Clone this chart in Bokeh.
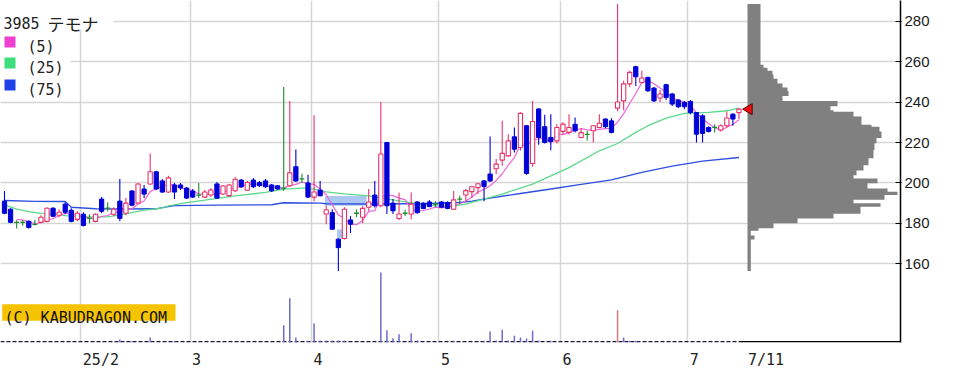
import numpy as np
import pandas as pd
from bokeh.plotting import figure
from bokeh.models import Range1d, FixedTicker, CustomJSTickFormatter
from bokeh.core.properties import value
from bokeh.embed import file_html
from bokeh.resources import INLINE

# ------------------------------------------------------------------ data
ticker_code = "3985"
ticker_name = "テモナ"
ma_labels = ["(5)", "(25)", "(75)"]
watermark = "(C) KABUDRAGON.COM"
month_start_idx = [13, 31, 51, 72, 92, 113]
month_labels = ["25/2", "3", "4", "5", "6", "7"]
last_date_label = "7/11"
price_ticks = [160, 180, 200, 220, 240, 260, 280]

opens = [191, 187, 180.5, 180.5, 181, 179.5, 180.5, 181, 187.5, 184,
         189.5, 186.5, 182, 184.5, 182.5, 181, 192, 187.5, 184.5, 191,
         185, 196, 190, 197, 199.5, 205.5, 201, 195.5, 199, 199,
         197.5, 196, 194, 193, 194, 199.5, 194.5, 193.7, 196.1, 201.4,
         196.4, 201.4, 200.2, 201, 199, 198.6, 197.4, 198.6, 208, 202,
         200, 193, 196.4, 184.6, 185.3, 172.2, 172.5, 181.7, 185, 183,
         188, 194, 188.7, 220, 190, 182.4, 185, 184.6, 190.6, 190,
         190.6, 189.5, 190.6, 190.3, 187, 192, 194, 195.7, 197.7, 201,
         204.4, 207, 211.3, 213.4, 222.8, 217.5, 228.3, 209.6, 236.6, 227.8,
         222.5, 220.8, 225.5, 225, 229, 222.5, 224, 225.8, 227.4, 231.6,
         230.7, 237, 240.6, 249, 257.5, 249.7, 252.2, 246.9, 242, 248.6,
         244, 241, 239.8, 240.3, 234.8, 233.2, 227.4, 227.5, 226.2, 228.3,
         234, 234.8]
highs = [196, 187.5, 181.5, 181.5, 181.5, 181.8, 184, 188, 188, 187,
         190.5, 187.5, 186, 185.5, 184.5, 185, 193, 190.5, 188, 202,
         192.5, 196.5, 200, 199, 214.5, 206, 202, 203.5, 200, 200,
         198, 197, 200, 196.5, 197.5, 200.5, 199, 199.5, 203, 202,
         201, 202.5, 201, 202, 199.5, 199, 247.5, 240.5, 216.5, 204.5,
         204, 233.5, 201, 188.7, 187, 172.5, 188, 183.7, 187, 188.5,
         197, 201, 240, 220, 192, 195.3, 186.7, 195.3, 191, 190.5,
         191.5, 191, 191, 191, 196, 193.6, 197, 198.6, 199.8, 201.5,
         223, 211.8, 230.7, 224.1, 227.4, 235, 228.5, 240.6, 237, 233.7,
         234, 229, 230, 234, 232.4, 227, 225.8, 228.5, 234, 232,
         232, 288.5, 250.5, 255.5, 258, 255.5, 252.5, 247.5, 246, 249,
         244.5, 241.5, 240.5, 241, 235, 234, 228, 229, 229, 235.3,
         234.5, 237]
lows = [184.5, 180, 177.5, 178.8, 177.5, 179, 180, 180.5, 183, 183,
        184.5, 180.5, 181, 178.5, 180, 180.5, 185, 186, 183.5, 181,
        184, 188.5, 189.5, 192.5, 199, 196.5, 195, 195, 192, 196.5,
        192, 192.5, 192.5, 192.5, 193, 192, 194, 193, 195.5, 197.5,
        196, 197.5, 198, 197.5, 195.5, 196.5, 196, 198, 200.5, 200,
        192.5, 191, 193.5, 179.6, 177, 156.5, 172, 175.2, 183, 180,
        186.2, 187.8, 188, 184.6, 184.6, 181.7, 183.7, 182, 184.8, 187,
        188, 188, 187.8, 187, 186.7, 189.5, 191, 192.5, 194.5, 191,
        200.5, 204.4, 208.5, 213, 215, 216, 204, 208, 218.9, 219.5,
        216.2, 219.5, 224, 224, 225, 222, 221, 220, 227, 227,
        224.5, 235.5, 236, 247.5, 248, 249, 245, 240, 240, 241,
        238, 237, 236.5, 234, 220, 220, 225, 225, 225.5, 227.5,
        228.3, 231.6]
closes = [185, 180.5, 180.5, 180.5, 178, 179.5, 183, 187.5, 183.5, 185.5,
          185.5, 181, 185, 179, 182.5, 184.5, 186, 187.5, 187, 182.5,
          190, 189, 199.5, 194.5, 205.5, 197, 195.5, 202.5, 195.5, 197.5,
          192.5, 193, 194, 195.5, 196.5, 192.5, 198.5, 199, 201.8, 198.1,
          200.2, 198.1, 198.6, 198.1, 196.1, 197, 197.4, 205, 201, 202,
          193, 195.5, 193.6, 186.7, 177.1, 168, 187, 179.6, 185, 187.4,
          190.6, 188.7, 214.3, 188.7, 186.2, 184.6, 185, 189.5, 185.3, 187.4,
          188.3, 189.5, 188, 187.4, 191.6, 192, 196.2, 198.1, 199.6, 198.2,
          201, 209.3, 214.6, 220.8, 216.7, 234.4, 204.7, 230.4, 222.5, 220,
          220.5, 227.4, 229.1, 227.4, 225.8, 224.9, 224, 228.3, 229.5, 227.8,
          225, 240, 249, 254.7, 252.5, 251.9, 245.6, 240.6, 244, 242.3,
          239, 237.7, 237.7, 234.8, 224.1, 224.5, 225.5, 227.5, 228.3, 232.1,
          231.6, 236.5]
volumes = [8, 8, 8, 8, 8, 8, 8, 8, 8, 8,
           8, 8, 8, 8, 8, 8, 8, 8, 8, 30,
           8, 12, 8, 8, 50, 8, 8, 8, 15, 8,
           8, 8, 8, 8, 8, 8, 8, 8, 8, 8,
           8, 8, 8, 8, 8, 8, 173, 443, 50, 8,
           17, 190, 20, 20, 20, 20, 20, 8, 8, 8,
           8, 8, 700, 123, 43, 83, 8, 93, 20, 8,
           8, 8, 8, 8, 18, 8, 8, 8, 8, 15,
           110, 20, 127, 20, 67, 50, 40, 117, 20, 8,
           18, 8, 8, 8, 8, 8, 8, 8, 8, 8,
           8, 323, 50, 18, 18, 8, 8, 8, 8, 8,
           8, 8, 8, 8, 8, 8, 8, 8, 8, 8,
           8, 8]
vol_red_days = [101]

ma25_days = [0, 2, 4, 6, 9, 10, 13, 17, 19, 21, 23, 26, 27, 30, 33, 38, 43, 46, 50, 53,
             56, 60, 65, 68, 73, 76, 79, 82, 87, 93, 98, 101, 104, 106, 109, 112, 116, 119, 121]
ma25_vals = [189.2, 187.0, 185.8, 184.9, 184.4, 183.8, 183.2, 183.2, 184.2, 185.3,
             186.5, 187.6, 188.6, 190.3, 191.5, 193.6, 195.3, 196.9, 197.6, 195.6,
             194.6, 193.6, 191.1, 189.8, 188.2, 189.5, 192.0, 194.5, 199.4, 207.6,
             215.9, 219.5, 225.0, 228.3, 232.1, 234.4, 234.9, 235.7, 237.0]
ma75_days = [0, 5, 10, 11, 15, 20, 25, 26, 28, 35, 44, 46, 52, 53, 60, 70, 75, 77, 80,
             85, 90, 95, 100, 105, 110, 115, 121]
ma75_vals = [191.3, 190.9, 190.8, 188.0, 187.2, 187.1, 187.2, 187.8, 188.8, 189.0,
             189.2, 190.2, 190.0, 189.7, 189.6, 189.8, 190.3, 191.0, 192.5,
             194.8, 197.0, 199.3, 201.5, 205.2, 208.3, 210.8, 212.6]

gap_start = [53, 55]
gap_end = [60, 56]
gap_lo = [188.7, 172.5]
gap_hi = [193.5, 177.0]

prof_lo = [156.5, 172.0, 174.0, 176.3, 177.6, 180.1, 182.4, 184.8, 188.2, 190.0,
           191.7, 194.0, 195.6, 197.2, 199.8, 202.2, 203.8, 206.2, 208.8, 212.2,
           216.3, 219.6, 222.2, 225.4, 227.8, 228.8, 232.8, 235.2, 236.0, 237.9,
           240.5, 243.0, 245.5, 247.2, 249.2, 251.5, 253.6, 255.5, 257.0, 258.5]
prof_top = 288.5
prof_vol = [3.3, 7, 3.3, 11, 26, 50, 86, 113, 133, 106,
            137, 150, 140, 120, 130, 106, 109, 116, 121, 126,
            127, 129, 134, 132, 124, 114, 106, 86, 83, 90,
            35, 41, 40, 35, 30, 26, 25, 20, 16, 13]

# ------------------------------------------------------------------ layout
FW, FH = 900, 342
PX0, PPD = 4.0, 6.07
X0 = -PX0 / PPD
X1 = X0 + FW / PPD
PPY = 2.0217
Y_TOP = 280 + 20.7 / PPY
Y_BOT = Y_TOP - FH / PPY


def sx(px):
    return X0 + px / PPD


def sy(py):
    return Y_TOP - py / PPY


RED = "#e8336a"
BLUE = "#0000d8"
GREEN = "#1e8a2e"

p = figure(width=964, height=373, x_range=Range1d(X0, X1), y_range=Range1d(Y_BOT, Y_TOP),
           output_backend="svg", toolbar_location=None, y_axis_location="right",
           min_border_left=0, min_border_right=64, min_border_top=0, min_border_bottom=31)
p.extra_y_ranges = {"vol": Range1d(0, FH * 10)}
p.extra_x_ranges = {"prof": Range1d(-747, FW - 747)}
p.outline_line_color = None
p.background_fill_color = "white"
p.border_fill_color = "white"

# grid
p.xgrid.ticker = FixedTicker(ticks=[d - 0.42 for d in month_start_idx])
p.ygrid.ticker = FixedTicker(ticks=price_ticks)
for g in (p.xgrid, p.ygrid):
    g.grid_line_color = "#d6d6d6"
    g.grid_line_width = 1.5

# x axis: left-aligned labels (monospace)
cw = 0.602 * 15
label_locs = []
for d, t in zip(month_start_idx, month_labels):
    gpx = PX0 + (d - 0.42) * PPD
    label_locs.append(sx(gpx + 2 + len(t) * cw / 2))
label_locs.append(sx(747.5 + len(last_date_label) * cw / 2))
all_labels = month_labels + [last_date_label]
xa = p.xaxis[0]
xa.ticker = FixedTicker(ticks=label_locs)
xa.formatter = CustomJSTickFormatter(args=dict(locs=label_locs, labels=all_labels), code="""
let best = 0, bd = 1e9;
for (let k = 0; k < locs.length; k++) { const d = Math.abs(locs[k] - tick); if (d < bd) { bd = d; best = k; } }
return labels[best];
""")
xa.axis_line_color = None
xa.major_tick_line_color = None
xa.minor_tick_line_color = None
xa.major_label_text_font = "DejaVu Sans Mono"
xa.major_label_text_font_size = "15px"
xa.major_label_text_color = "#222222"
xa.major_label_standoff = 2

ya = p.yaxis[0]
ya.ticker = FixedTicker(ticks=price_ticks)
ya.axis_line_color = "black"
ya.axis_line_width = 1.5
ya.major_tick_line_color = "black"
ya.major_tick_in = 5
ya.major_tick_out = 1
ya.minor_tick_line_color = None
ya.major_label_text_font = "Liberation Sans"
ya.major_label_text_font_size = "15px"
ya.major_label_text_color = "#1a1a1a"
ya.major_label_standoff = 3

# legend white backgrounds
p.quad(left=[sx(0), sx(0)], right=[sx(113), sx(70)], top=[sy(0), sy(29)], bottom=[sy(29), sy(95)],
       fill_color="white", line_color=None)

# volume profile as one stepped outline (no seams between price bins)
prof_hi = prof_lo[1:] + [prof_top]
px_pts = [0.0]
py_pts = [prof_lo[0]]
for v, lo, hi in zip(prof_vol, prof_lo, prof_hi):
    px_pts += [v, v]
    py_pts += [lo, hi]
px_pts.append(0.0)
py_pts.append(prof_top)
p.patch(px_pts, py_pts, x_range_name="prof", fill_color="#808080", line_color=None)

# gap boxes
p.quad(left=[s - 0.2 for s in gap_start], right=[e - 0.35 for e in gap_end],
       bottom=gap_lo, top=gap_hi, fill_color="#aac8f0", line_color=None)

# moving averages
idx = np.arange(len(closes))
c = np.array(closes, dtype=float)
o = np.array(opens, dtype=float)
h = np.array(highs, dtype=float)
l = np.array(lows, dtype=float)
ma5 = pd.Series(c).rolling(5, min_periods=1).mean().to_numpy()
p.line(ma75_days, ma75_vals, line_color="#2f4fe0", line_width=1.4)
p.line(ma25_days, ma25_vals, line_color="#5cd98a", line_width=1.3)
p.line(idx[2:], ma5[2:], line_color="#ee66dd", line_width=1.2)

# volume
n = len(closes)
p.line([X0, n - 1 + 0.4], [8, 8], y_range_name="vol", line_color="#1a1a3a",
       line_width=1.6, line_dash="4 2")
p.segment(x0=[n - 1 + 0.3], y0=[8], x1=[X1], y1=[8], y_range_name="vol",
          line_color="black", line_width=1.6)
vol = np.array(volumes, dtype=float)
is_red = np.isin(idx, vol_red_days)
big = vol > 10
p.segment(x0=idx[big & ~is_red], y0=0, x1=idx[big & ~is_red], y1=vol[big & ~is_red],
          y_range_name="vol", line_color="#6b6bd0", line_width=1.5)
p.segment(x0=idx[big & is_red], y0=0, x1=idx[big & is_red], y1=vol[big & is_red],
          y_range_name="vol", line_color="#e07a7a", line_width=1.5)

# candles
up = c > o
dn = c < o
dj = c == o
p.segment(x0=idx[up], y0=l[up], x1=idx[up], y1=h[up], line_color=RED, line_width=1.1)
p.segment(x0=idx[dn], y0=l[dn], x1=idx[dn], y1=h[dn], line_color=BLUE, line_width=1.1)
p.segment(x0=idx[dj], y0=l[dj], x1=idx[dj], y1=h[dj], line_color=GREEN, line_width=1.1)
p.vbar(x=idx[up], width=0.7, top=c[up], bottom=o[up], fill_color="white", line_color=RED, line_width=1.1)
p.vbar(x=idx[dn], width=0.7, top=o[dn], bottom=c[dn], fill_color=BLUE, line_color=BLUE, line_width=1)
p.segment(x0=idx[dj] - 0.4, y0=o[dj], x1=idx[dj] + 0.4, y1=o[dj], line_color=GREEN, line_width=1.3)

# last price marker
p.scatter(x=[n - 1 + 1.65], y=[c[-1]], marker="triangle", size=11, angle=np.pi / 2,
          fill_color="#e81010", line_color="#600000", line_width=1)

# watermark
p.quad(left=[sx(1.7)], right=[sx(175)], top=[sy(303.7)], bottom=[sy(320.3)],
       fill_color="#f5c300", line_color=None)
p.text(x=[sx(4)], y=[sy(317)], text=[watermark], text_font=value("DejaVu Sans Mono"),
       text_font_size=value("15px"), text_color="#111111", text_baseline="alphabetic", text_align="left")

# legend
p.text(x=[sx(3)], y=[sy(22)], text=[ticker_code], text_font=value("DejaVu Sans Mono"),
       text_font_size=value("15px"), text_color="#222222", text_baseline="alphabetic", text_align="left")
p.text(x=[sx(47)], y=[sy(23)], text=[ticker_name], text_font=value("Noto Sans CJK JP"),
       text_font_size=value("17px"), text_color="#222222", text_baseline="alphabetic", text_align="left")
sq_colors = ["#f040d0", "#3ddc7c", "#2040e8"]
sq_tops = [36, 57, 79]
p.quad(left=[sx(4)] * 3, right=[sx(15)] * 3, top=[sy(t) for t in sq_tops],
       bottom=[sy(t + 11) for t in sq_tops], fill_color=sq_colors, line_color=None)
p.text(x=[sx(27)] * 3, y=[sy(t + 10) for t in sq_tops], text=ma_labels,
       text_font=value("DejaVu Sans Mono"), text_font_size=value("15px"), text_color="#222222",
       text_baseline="alphabetic", text_align="left")

open("out.html", "w").write(file_html(p, INLINE))
